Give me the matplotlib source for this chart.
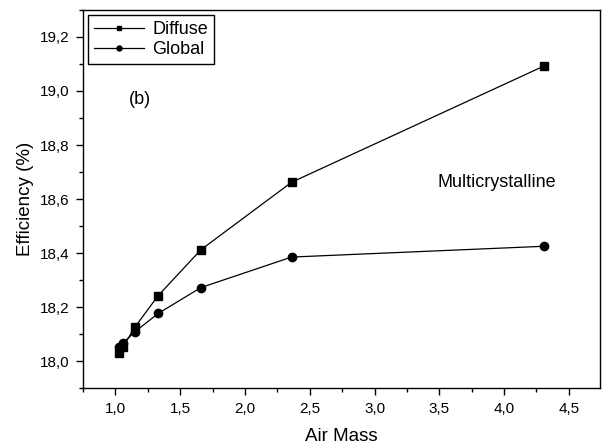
import matplotlib
matplotlib.use("Agg")
import matplotlib.pyplot as plt
from matplotlib.ticker import MultipleLocator, FuncFormatter

plt.rcParams['font.family'] = ['Liberation Sans', 'DejaVu Sans']

# data
air_mass = [1.03, 1.06, 1.15, 1.33, 1.66, 2.36, 4.31]
diffuse = [18.031, 18.053, 18.125, 18.242, 18.412, 18.662, 19.093]
glob = [18.053, 18.067, 18.108, 18.176, 18.272, 18.385, 18.425]

fig = plt.figure(figsize=(6.03, 4.46), dpi=100)
ax = fig.add_axes([0.1376, 0.130, 0.8574, 0.8476])

ax.plot(air_mass, diffuse, '-s', color='black', lw=0.9, ms=5.5, label='Diffuse')
ax.plot(air_mass, glob, '-o', color='black', lw=0.9, ms=6, label='Global')

ax.set_xlim(0.75, 4.74)
ax.set_ylim(17.9, 19.3)
ax.xaxis.set_major_locator(MultipleLocator(0.5))
ax.xaxis.set_minor_locator(MultipleLocator(0.25))
ax.yaxis.set_major_locator(MultipleLocator(0.2))
ax.yaxis.set_minor_locator(MultipleLocator(0.1))
fmt = FuncFormatter(lambda v, p: ('%.1f' % v).replace('.', ','))
ax.xaxis.set_major_formatter(fmt)
ax.yaxis.set_major_formatter(fmt)
ax.tick_params(which='both', direction='out', top=False, right=False, labelsize=11)
ax.tick_params(which='major', length=5, width=1, pad=5)
ax.tick_params(which='minor', length=3, width=1)
for s in ax.spines.values():
    s.set_linewidth(1)

ax.set_xlabel('Air Mass', fontsize=13.5, labelpad=9)
ax.set_ylabel('Efficiency (%)', fontsize=13.5, labelpad=4)

ax.text(1.19, 18.97, '(b)', fontsize=13, ha='center', va='center')
ax.text(3.94, 18.66, 'Multicrystalline', fontsize=13, ha='center', va='center')

leg = ax.legend(loc='upper left', fontsize=13, frameon=True, fancybox=False,
                edgecolor='black', framealpha=1, borderaxespad=0.3, markerscale=0.6,
                handlelength=2.8, handletextpad=0.45, borderpad=0.3, labelspacing=0.2)
leg.get_frame().set_linewidth(1)

fig.savefig('out.png', dpi=100)
